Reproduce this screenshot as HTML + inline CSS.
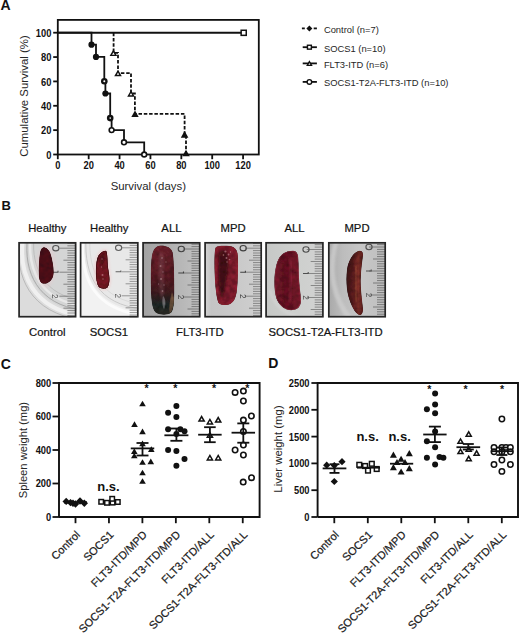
<!DOCTYPE html><html><head><meta charset="utf-8"><style>html,body{margin:0;padding:0;background:#fff;}svg{display:block;}text{font-family:"Liberation Sans", sans-serif;}text.n{stroke:#1a1a1a;stroke-width:0.22px;}</style></head><body>
<svg width="520" height="633" viewBox="0 0 520 633">
<rect width="520" height="633" fill="#fff"/>
<text x="0.50" y="9.70" font-size="14" font-weight="bold" text-anchor="start" fill="#111" >A</text>
<rect x="57.8" y="19.9" width="201.0" height="134.6" fill="none" stroke="#111" stroke-width="1.8"/>
<line x1="53.20" y1="154.50" x2="57.80" y2="154.50" stroke="#111" stroke-width="1.8" />
<text transform="translate(51.40,158.70) scale(0.88,1)" font-size="10.6" font-weight="bold" text-anchor="end" fill="#111">0</text>
<line x1="53.20" y1="130.14" x2="57.80" y2="130.14" stroke="#111" stroke-width="1.8" />
<text transform="translate(51.40,134.34) scale(0.88,1)" font-size="10.6" font-weight="bold" text-anchor="end" fill="#111">20</text>
<line x1="53.20" y1="105.78" x2="57.80" y2="105.78" stroke="#111" stroke-width="1.8" />
<text transform="translate(51.40,109.98) scale(0.88,1)" font-size="10.6" font-weight="bold" text-anchor="end" fill="#111">40</text>
<line x1="53.20" y1="81.42" x2="57.80" y2="81.42" stroke="#111" stroke-width="1.8" />
<text transform="translate(51.40,85.62) scale(0.88,1)" font-size="10.6" font-weight="bold" text-anchor="end" fill="#111">60</text>
<line x1="53.20" y1="57.06" x2="57.80" y2="57.06" stroke="#111" stroke-width="1.8" />
<text transform="translate(51.40,61.26) scale(0.88,1)" font-size="10.6" font-weight="bold" text-anchor="end" fill="#111">80</text>
<line x1="53.20" y1="32.70" x2="57.80" y2="32.70" stroke="#111" stroke-width="1.8" />
<text transform="translate(51.40,36.90) scale(0.88,1)" font-size="10.6" font-weight="bold" text-anchor="end" fill="#111">100</text>
<line x1="57.80" y1="154.50" x2="57.80" y2="159.20" stroke="#111" stroke-width="1.8" />
<text transform="translate(57.80,168.90) scale(0.88,1)" font-size="10.6" font-weight="bold" text-anchor="middle" fill="#111">0</text>
<line x1="88.68" y1="154.50" x2="88.68" y2="159.20" stroke="#111" stroke-width="1.8" />
<text transform="translate(88.68,168.90) scale(0.88,1)" font-size="10.6" font-weight="bold" text-anchor="middle" fill="#111">20</text>
<line x1="119.56" y1="154.50" x2="119.56" y2="159.20" stroke="#111" stroke-width="1.8" />
<text transform="translate(119.56,168.90) scale(0.88,1)" font-size="10.6" font-weight="bold" text-anchor="middle" fill="#111">40</text>
<line x1="150.44" y1="154.50" x2="150.44" y2="159.20" stroke="#111" stroke-width="1.8" />
<text transform="translate(150.44,168.90) scale(0.88,1)" font-size="10.6" font-weight="bold" text-anchor="middle" fill="#111">60</text>
<line x1="181.32" y1="154.50" x2="181.32" y2="159.20" stroke="#111" stroke-width="1.8" />
<text transform="translate(181.32,168.90) scale(0.88,1)" font-size="10.6" font-weight="bold" text-anchor="middle" fill="#111">80</text>
<line x1="212.20" y1="154.50" x2="212.20" y2="159.20" stroke="#111" stroke-width="1.8" />
<text transform="translate(212.20,168.90) scale(0.88,1)" font-size="10.6" font-weight="bold" text-anchor="middle" fill="#111">100</text>
<line x1="243.08" y1="154.50" x2="243.08" y2="159.20" stroke="#111" stroke-width="1.8" />
<text transform="translate(243.08,168.90) scale(0.88,1)" font-size="10.6" font-weight="bold" text-anchor="middle" fill="#111">120</text>
<text x="148.3" y="189.8" font-size="11.4" text-anchor="middle" fill="#262626">Survival (days)</text>
<text transform="translate(27.5,96.0) rotate(-90)" font-size="11.4" text-anchor="middle" fill="#262626">Cumulative Survival (%)</text>
<line x1="57.80" y1="32.70" x2="243.10" y2="32.70" stroke="#111" stroke-width="1.9" />
<path d="M57.8,32.7 H91.5 V44.7 H96 V56.9 H104.3 V81.3 H105.4 V93.5 H110.2 V118.1 H111.6 V130.1 H124 V142.3 H144.2 V154.5" fill="none" stroke="#111" stroke-width="1.8"/>
<path d="M113.6,32.7 V52.9 H118 V73.1 H131 V93.5 H134.9 V113.8 H184.6 V134.2 H186 V154.5" fill="none" stroke="#111" stroke-width="1.8" stroke-dasharray="3.5,1.8"/>
<circle cx="91.50" cy="44.70" r="3.1" fill="#111"/>
<circle cx="96.00" cy="56.90" r="3.1" fill="#111"/>
<circle cx="105.40" cy="93.50" r="3.1" fill="#111"/>
<circle cx="104.30" cy="81.30" r="3.3" fill="#111"/>
<circle cx="110.20" cy="118.10" r="3.3" fill="#111"/>
<circle cx="104.3" cy="81.3" r="1.0" fill="#fff"/><circle cx="110.2" cy="118.1" r="0.8" fill="#fff"/>
<circle cx="111.60" cy="130.10" r="2.40" fill="#fff" stroke="#111" stroke-width="1.6"/>
<circle cx="124.00" cy="142.30" r="2.40" fill="#fff" stroke="#111" stroke-width="1.6"/>
<circle cx="144.20" cy="154.50" r="2.40" fill="#fff" stroke="#111" stroke-width="1.6"/>
<polygon points="110.86,55.38 115.94,55.38 113.40,50.98" fill="#fff" stroke="#111" stroke-width="1.45" stroke-linejoin="miter"/>
<polygon points="115.46,75.58 120.54,75.58 118.00,71.18" fill="#fff" stroke="#111" stroke-width="1.45" stroke-linejoin="miter"/>
<polygon points="128.46,95.98 133.54,95.98 131.00,91.58" fill="#fff" stroke="#111" stroke-width="1.45" stroke-linejoin="miter"/>
<polygon points="131.30,117.00 138.70,117.00 135.00,110.60" fill="#111"/>
<polygon points="180.80,137.69 188.40,137.69 184.60,131.11" fill="#111"/>
<polygon points="182.20,156.29 189.80,156.29 186.00,149.71" fill="#111"/>
<rect x="241.15" y="30.25" width="5.10" height="5.10" fill="#fff" stroke="#111" stroke-width="1.5"/>
<line x1="301.90" y1="28.40" x2="304.80" y2="28.40" stroke="#111" stroke-width="1.8" />
<line x1="313.70" y1="28.40" x2="316.90" y2="28.40" stroke="#111" stroke-width="1.8" />
<polygon points="309.40,25.40 312.40,28.40 309.40,31.40 306.40,28.40" fill="#111"/>
<line x1="302.70" y1="47.20" x2="316.90" y2="47.20" stroke="#111" stroke-width="1.8" />
<rect x="307.45" y="45.25" width="3.90" height="3.90" fill="#fff" stroke="#111" stroke-width="1.4"/>
<line x1="302.70" y1="63.40" x2="316.90" y2="63.40" stroke="#111" stroke-width="1.8" />
<polygon points="307.28,65.40 311.52,65.40 309.40,61.72" fill="#fff" stroke="#111" stroke-width="1.35" stroke-linejoin="miter"/>
<line x1="302.70" y1="81.90" x2="316.90" y2="81.90" stroke="#111" stroke-width="1.8" />
<circle cx="309.40" cy="81.90" r="2.30" fill="#fff" stroke="#111" stroke-width="1.4"/>
<text x="323.9" y="32.8" font-size="9.4" fill="#262626">Control (n=7)</text>
<text x="323.9" y="52.0" font-size="9.4" fill="#262626">SOCS1 (n=10)</text>
<text x="323.9" y="68.1" font-size="9.4" fill="#262626">FLT3-ITD (n=6)</text>
<text x="323.9" y="86.2" font-size="9.4" fill="#262626">SOCS1-T2A-FLT3-ITD (n=10)</text>
<text x="1.50" y="210.00" font-size="13" font-weight="bold" text-anchor="start" fill="#111" >B</text>
<text class="n" x="47.35" y="231.90" font-size="11.3" font-weight="normal" text-anchor="middle" fill="#111" >Healthy</text>
<text class="n" x="109.20" y="231.90" font-size="11.3" font-weight="normal" text-anchor="middle" fill="#111" >Healthy</text>
<text class="n" x="171.40" y="231.90" font-size="11.3" font-weight="normal" text-anchor="middle" fill="#111" >ALL</text>
<text class="n" x="233.15" y="231.90" font-size="11.3" font-weight="normal" text-anchor="middle" fill="#111" >MPD</text>
<text class="n" x="294.50" y="231.90" font-size="11.3" font-weight="normal" text-anchor="middle" fill="#111" >ALL</text>
<text class="n" x="357.00" y="231.90" font-size="11.3" font-weight="normal" text-anchor="middle" fill="#111" >MPD</text>
<defs>
<clipPath id="pc0"><rect x="18.3" y="242.0" width="58.10000000000001" height="75.5"/></clipPath>
<clipPath id="pc1"><rect x="79.8" y="242.0" width="58.8" height="75.5"/></clipPath>
<clipPath id="pc2"><rect x="142.3" y="242.0" width="58.19999999999999" height="75.5"/></clipPath>
<clipPath id="pc3"><rect x="204.3" y="242.0" width="57.69999999999999" height="75.5"/></clipPath>
<clipPath id="pc4"><rect x="265.3" y="242.0" width="58.39999999999998" height="75.5"/></clipPath>
<clipPath id="pc5"><rect x="328" y="242.0" width="58" height="75.5"/></clipPath>
<clipPath id="spc1"><path d="M42.9,247.4 C46,247 49.5,249.5 51,255 C52.5,260 54,268 53.7,273 C53.5,278 51,282 46,283.7 C42,284.5 39.5,282.5 38.9,277 C38.5,270 38.8,260 39.8,254 C40.3,250 41.2,247.8 42.9,247.4 Z"/></clipPath>
<clipPath id="spc2"><path d="M105.8,250.7 C107,251 107.3,255 107.5,260 C107.7,266 108.5,271 109.2,275 C109.8,280 109.5,285 107.5,287.5 C105.5,289.2 101,289.2 98.7,286.7 C96.8,284.5 95.8,277 95.9,271.5 C96,265 96.5,259 98.5,255.5 C100.5,252.5 103.5,250.6 105.8,250.7 Z"/></clipPath>
<clipPath id="spc3"><path d="M160.5,245.6 C166,245.4 171,247.5 172.6,252 C174,258 174.3,275 174.3,290 C174.3,300 174.2,308 171.5,312.5 C168,315.5 160,315.5 155.5,312.5 C152,309 151.2,300 150.9,290 C150.6,278 150.6,262 152,255 C153.3,249 156,245.8 160.5,245.6 Z"/></clipPath>
<clipPath id="spc4"><path d="M216,247 C218,245.6 224,245.4 230,246 C235,246.8 237.6,250 237.9,256 C238.3,266 238,280 237,290 C236,298 234,302.5 229,304.6 C225,305.6 220,305.3 218.2,302.5 C216.5,298 216,292 215.2,284 C214.4,272 214.3,260 214.7,253 C215,249.5 215.3,247.8 216,247 Z"/></clipPath>
<clipPath id="spc5"><path d="M292,250.8 C295.5,250.6 297.8,252.5 298.2,257 C298.8,265 298.8,275 299.3,282 C299.8,290 301.5,298 300.8,303 C299.8,308 296,310.3 291,310.2 C285,310 280,306 277.5,301 C275,296 274.2,288 274.4,280 C274.6,272 276,264 278.5,259 C281,254 286,251 292,250.8 Z"/></clipPath>
<clipPath id="spc6"><path d="M360,250.8 C362.5,250.8 363.3,252.5 363,256 C362.3,262 361,270 360.8,280 C360.6,290 362.3,300 363,308 C363.4,313 362,315.8 359,315 C355,313.5 350.5,305 348.2,296 C346.2,288 345.8,278 347,269 C348.3,261 352,255 355.5,252.5 C357,251.4 358.5,250.8 360,250.8 Z"/></clipPath>
<filter id="soft" x="-5%" y="-5%" width="110%" height="110%"><feGaussianBlur stdDeviation="0.4"/></filter>
<filter id="blur05" x="-50%" y="-50%" width="200%" height="200%"><feGaussianBlur stdDeviation="0.5"/></filter>
<filter id="blur1" x="-20%" y="-20%" width="140%" height="140%"><feGaussianBlur stdDeviation="1.0"/></filter>
<filter id="tex" x="0" y="0" width="1" height="1" color-interpolation-filters="sRGB"><feTurbulence type="fractalNoise" baseFrequency="0.2" numOctaves="2" seed="7" result="n"/><feColorMatrix in="n" type="matrix" values="0.33 0.33 0.33 0 0  0.33 0.33 0.33 0 0  0.33 0.33 0.33 0 0  0 0 0 0 1" result="g"/><feComposite in="SourceGraphic" in2="g" operator="arithmetic" k1="1.0" k2="0.5" k3="0" k4="0" result="t"/><feComposite in="t" in2="SourceGraphic" operator="in"/></filter>
<filter id="tex2" x="0" y="0" width="1" height="1" color-interpolation-filters="sRGB"><feTurbulence type="fractalNoise" baseFrequency="0.12 0.3" numOctaves="2" seed="11" result="n"/><feColorMatrix in="n" type="matrix" values="0.33 0.33 0.33 0 0  0.33 0.33 0.33 0 0  0.33 0.33 0.33 0 0  0 0 0 0 1" result="g"/><feComposite in="SourceGraphic" in2="g" operator="arithmetic" k1="1.0" k2="0.5" k3="0" k4="0" result="t"/><feComposite in="t" in2="SourceGraphic" operator="in"/></filter>
<linearGradient id="bg3" x1="0" y1="0" x2="1" y2="0"><stop offset="0" stop-color="#a2a2a2"/><stop offset="0.45" stop-color="#b0b0b0"/><stop offset="1" stop-color="#c2c2c2"/></linearGradient>
<linearGradient id="bg4" x1="0" y1="0" x2="1" y2="0"><stop offset="0" stop-color="#d4d4d4"/><stop offset="0.12" stop-color="#c4c4c4"/><stop offset="0.6" stop-color="#cacaca"/><stop offset="1" stop-color="#d0d0d0"/></linearGradient>
<linearGradient id="bg5" x1="0" y1="0" x2="1" y2="0"><stop offset="0" stop-color="#c6c8c6"/><stop offset="0.5" stop-color="#cdcfcd"/><stop offset="1" stop-color="#d2d2d2"/></linearGradient>
<linearGradient id="bg6" x1="0" y1="0" x2="1" y2="0"><stop offset="0" stop-color="#a8a8a8"/><stop offset="0.25" stop-color="#bcbcbc"/><stop offset="0.55" stop-color="#c6c6c6"/><stop offset="1" stop-color="#bfbfbf"/></linearGradient>
<linearGradient id="sp3" x1="0" y1="0" x2="0" y2="1"><stop offset="0" stop-color="#66202a"/><stop offset="0.45" stop-color="#521820"/><stop offset="0.68" stop-color="#3c1a1e"/><stop offset="0.86" stop-color="#1a2422"/><stop offset="1" stop-color="#2a2822"/></linearGradient>
<linearGradient id="sp6" x1="0" y1="0" x2="1" y2="0"><stop offset="0" stop-color="#381214"/><stop offset="0.4" stop-color="#561a1c"/><stop offset="0.72" stop-color="#742a24"/><stop offset="1" stop-color="#561c1c"/></linearGradient>
<radialGradient id="sp4" cx="0.45" cy="0.3" r="0.7"><stop offset="0" stop-color="#3a0a12"/><stop offset="0.45" stop-color="#5a1020"/><stop offset="1" stop-color="#801e2c"/></radialGradient>
<linearGradient id="sp5" x1="0" y1="0" x2="1" y2="0"><stop offset="0" stop-color="#6c1628"/><stop offset="0.5" stop-color="#5c0e1e"/><stop offset="1" stop-color="#7a1a2c"/></linearGradient>

</defs>
<g clip-path="url(#pc0)"><g filter="url(#soft)">
<rect x="18.3" y="242.0" width="58.10000000000001" height="75.5" fill="#dcdcdc"/>
<path d="M26,238 C22,272 36,306 82,312 L82,238 Z" fill="#d4d5d5"/>
<path d="M23,238 C18,274 33,309 82,316" fill="none" stroke="#f0f0f0" stroke-width="4"/>
<path d="M27.5,238 C23.5,272 37.5,304.5 82,310" fill="none" stroke="#a9a9a9" stroke-width="1"/>
<path d="M30.5,238 C27.5,270 41,300.5 82,305.5" fill="none" stroke="#e8e8e8" stroke-width="2.5"/>
<path d="M34,238 C31,268 45,296 82,300" fill="none" stroke="#b8b8b8" stroke-width="0.8"/>
<path d="M19.5,238 C14.5,276 29.5,313 82,320" fill="none" stroke="#b4b4b4" stroke-width="0.9"/>
<ellipse cx="46" cy="266" rx="10" ry="22" fill="#e8c8cc" opacity="0.35" filter="url(#blur1)"/>
<line x1="67.40" y1="243.40" x2="75.4" y2="243.40" stroke="#6a6a6a" stroke-width="0.75"/><line x1="67.40" y1="245.80" x2="75.4" y2="245.80" stroke="#6a6a6a" stroke-width="0.75"/><line x1="59.40" y1="248.20" x2="75.4" y2="248.20" stroke="#6a6a6a" stroke-width="0.75"/><line x1="67.40" y1="250.60" x2="75.4" y2="250.60" stroke="#6a6a6a" stroke-width="0.75"/><line x1="67.40" y1="253.00" x2="75.4" y2="253.00" stroke="#6a6a6a" stroke-width="0.75"/><line x1="67.40" y1="255.40" x2="75.4" y2="255.40" stroke="#6a6a6a" stroke-width="0.75"/><line x1="67.40" y1="257.80" x2="75.4" y2="257.80" stroke="#6a6a6a" stroke-width="0.75"/><line x1="63.40" y1="260.20" x2="75.4" y2="260.20" stroke="#6a6a6a" stroke-width="0.75"/><line x1="67.40" y1="262.60" x2="75.4" y2="262.60" stroke="#6a6a6a" stroke-width="0.75"/><line x1="67.40" y1="265.00" x2="75.4" y2="265.00" stroke="#6a6a6a" stroke-width="0.75"/><line x1="67.40" y1="267.40" x2="75.4" y2="267.40" stroke="#6a6a6a" stroke-width="0.75"/><line x1="67.40" y1="269.80" x2="75.4" y2="269.80" stroke="#6a6a6a" stroke-width="0.75"/><line x1="59.40" y1="272.20" x2="75.4" y2="272.20" stroke="#6a6a6a" stroke-width="0.75"/><line x1="67.40" y1="274.60" x2="75.4" y2="274.60" stroke="#6a6a6a" stroke-width="0.75"/><line x1="67.40" y1="277.00" x2="75.4" y2="277.00" stroke="#6a6a6a" stroke-width="0.75"/><line x1="67.40" y1="279.40" x2="75.4" y2="279.40" stroke="#6a6a6a" stroke-width="0.75"/><line x1="67.40" y1="281.80" x2="75.4" y2="281.80" stroke="#6a6a6a" stroke-width="0.75"/><line x1="63.40" y1="284.20" x2="75.4" y2="284.20" stroke="#6a6a6a" stroke-width="0.75"/><line x1="67.40" y1="286.60" x2="75.4" y2="286.60" stroke="#6a6a6a" stroke-width="0.75"/><line x1="67.40" y1="289.00" x2="75.4" y2="289.00" stroke="#6a6a6a" stroke-width="0.75"/><line x1="67.40" y1="291.40" x2="75.4" y2="291.40" stroke="#6a6a6a" stroke-width="0.75"/><line x1="67.40" y1="293.80" x2="75.4" y2="293.80" stroke="#6a6a6a" stroke-width="0.75"/><line x1="59.40" y1="296.20" x2="75.4" y2="296.20" stroke="#6a6a6a" stroke-width="0.75"/><line x1="67.40" y1="298.60" x2="75.4" y2="298.60" stroke="#6a6a6a" stroke-width="0.75"/><line x1="67.40" y1="301.00" x2="75.4" y2="301.00" stroke="#6a6a6a" stroke-width="0.75"/><line x1="67.40" y1="303.40" x2="75.4" y2="303.40" stroke="#6a6a6a" stroke-width="0.75"/><line x1="67.40" y1="305.80" x2="75.4" y2="305.80" stroke="#6a6a6a" stroke-width="0.75"/><line x1="63.40" y1="308.20" x2="75.4" y2="308.20" stroke="#6a6a6a" stroke-width="0.75"/><line x1="67.40" y1="310.60" x2="75.4" y2="310.60" stroke="#6a6a6a" stroke-width="0.75"/><line x1="67.40" y1="313.00" x2="75.4" y2="313.00" stroke="#6a6a6a" stroke-width="0.75"/><line x1="67.40" y1="315.40" x2="75.4" y2="315.40" stroke="#6a6a6a" stroke-width="0.75"/><ellipse cx="55.80" cy="248.20" rx="3.1" ry="2.7" fill="none" stroke="#555" stroke-width="1.1"/><path d="M52.80,272.20 H58.40 M58.00,270.80 V272.70" stroke="#555" stroke-width="1.1" fill="none"/><text transform="translate(52.40,296.20) rotate(90)" font-size="8.2" text-anchor="middle" fill="#555">2</text>
<g filter="url(#tex)"><path d="M42.9,247.4 C46,247 49.5,249.5 51,255 C52.5,260 54,268 53.7,273 C53.5,278 51,282 46,283.7 C42,284.5 39.5,282.5 38.9,277 C38.5,270 38.8,260 39.8,254 C40.3,250 41.2,247.8 42.9,247.4 Z" fill="#4a0c16"/><g clip-path="url(#spc1)"></g></g>
</g></g>
<g clip-path="url(#pc1)"><g filter="url(#soft)">
<rect x="79.8" y="242.0" width="58.8" height="75.5" fill="#f2f2f2"/>
<path d="M84,238 C82,278 96,306 142,312 L142,238 Z" fill="#e8e8e8"/>
<path d="M83,238 C80,280 95,309 142,315" fill="none" stroke="#fbfbfb" stroke-width="3"/>
<path d="M86,238 C84,276 98,304 142,309" fill="none" stroke="#c6c6c6" stroke-width="0.9"/>
<path d="M90,238 C88,272 102,300 142,304" fill="none" stroke="#d6d6d6" stroke-width="0.8"/>
<path d="M105.8,250.7 C107,251 107.3,255 107.5,260 C107.7,266 108.5,271 109.2,275 C109.8,280 109.5,285 107.5,287.5 C105.5,289.2 101,289.2 98.7,286.7 C96.8,284.5 95.8,277 95.9,271.5 C96,265 96.5,259 98.5,255.5 C100.5,252.5 103.5,250.6 105.8,250.7 Z" fill="none" stroke="#f0cccc" stroke-width="3" opacity="0.7" filter="url(#blur1)"/>
<line x1="129.60" y1="243.00" x2="137.6" y2="243.00" stroke="#7a7a7a" stroke-width="0.75"/><line x1="129.60" y1="245.40" x2="137.6" y2="245.40" stroke="#7a7a7a" stroke-width="0.75"/><line x1="121.60" y1="247.80" x2="137.6" y2="247.80" stroke="#7a7a7a" stroke-width="0.75"/><line x1="129.60" y1="250.20" x2="137.6" y2="250.20" stroke="#7a7a7a" stroke-width="0.75"/><line x1="129.60" y1="252.60" x2="137.6" y2="252.60" stroke="#7a7a7a" stroke-width="0.75"/><line x1="129.60" y1="255.00" x2="137.6" y2="255.00" stroke="#7a7a7a" stroke-width="0.75"/><line x1="129.60" y1="257.40" x2="137.6" y2="257.40" stroke="#7a7a7a" stroke-width="0.75"/><line x1="125.60" y1="259.80" x2="137.6" y2="259.80" stroke="#7a7a7a" stroke-width="0.75"/><line x1="129.60" y1="262.20" x2="137.6" y2="262.20" stroke="#7a7a7a" stroke-width="0.75"/><line x1="129.60" y1="264.60" x2="137.6" y2="264.60" stroke="#7a7a7a" stroke-width="0.75"/><line x1="129.60" y1="267.00" x2="137.6" y2="267.00" stroke="#7a7a7a" stroke-width="0.75"/><line x1="129.60" y1="269.40" x2="137.6" y2="269.40" stroke="#7a7a7a" stroke-width="0.75"/><line x1="121.60" y1="271.80" x2="137.6" y2="271.80" stroke="#7a7a7a" stroke-width="0.75"/><line x1="129.60" y1="274.20" x2="137.6" y2="274.20" stroke="#7a7a7a" stroke-width="0.75"/><line x1="129.60" y1="276.60" x2="137.6" y2="276.60" stroke="#7a7a7a" stroke-width="0.75"/><line x1="129.60" y1="279.00" x2="137.6" y2="279.00" stroke="#7a7a7a" stroke-width="0.75"/><line x1="129.60" y1="281.40" x2="137.6" y2="281.40" stroke="#7a7a7a" stroke-width="0.75"/><line x1="125.60" y1="283.80" x2="137.6" y2="283.80" stroke="#7a7a7a" stroke-width="0.75"/><line x1="129.60" y1="286.20" x2="137.6" y2="286.20" stroke="#7a7a7a" stroke-width="0.75"/><line x1="129.60" y1="288.60" x2="137.6" y2="288.60" stroke="#7a7a7a" stroke-width="0.75"/><line x1="129.60" y1="291.00" x2="137.6" y2="291.00" stroke="#7a7a7a" stroke-width="0.75"/><line x1="129.60" y1="293.40" x2="137.6" y2="293.40" stroke="#7a7a7a" stroke-width="0.75"/><line x1="121.60" y1="295.80" x2="137.6" y2="295.80" stroke="#7a7a7a" stroke-width="0.75"/><line x1="129.60" y1="298.20" x2="137.6" y2="298.20" stroke="#7a7a7a" stroke-width="0.75"/><line x1="129.60" y1="300.60" x2="137.6" y2="300.60" stroke="#7a7a7a" stroke-width="0.75"/><line x1="129.60" y1="303.00" x2="137.6" y2="303.00" stroke="#7a7a7a" stroke-width="0.75"/><line x1="129.60" y1="305.40" x2="137.6" y2="305.40" stroke="#7a7a7a" stroke-width="0.75"/><line x1="125.60" y1="307.80" x2="137.6" y2="307.80" stroke="#7a7a7a" stroke-width="0.75"/><line x1="129.60" y1="310.20" x2="137.6" y2="310.20" stroke="#7a7a7a" stroke-width="0.75"/><line x1="129.60" y1="312.60" x2="137.6" y2="312.60" stroke="#7a7a7a" stroke-width="0.75"/><line x1="129.60" y1="315.00" x2="137.6" y2="315.00" stroke="#7a7a7a" stroke-width="0.75"/><line x1="129.60" y1="317.40" x2="137.6" y2="317.40" stroke="#7a7a7a" stroke-width="0.75"/><ellipse cx="118.60" cy="247.80" rx="3.1" ry="2.7" fill="none" stroke="#606060" stroke-width="1.1"/><path d="M115.60,271.80 H121.20 M120.80,270.40 V272.30" stroke="#606060" stroke-width="1.1" fill="none"/><text transform="translate(115.20,295.80) rotate(90)" font-size="8.2" text-anchor="middle" fill="#606060">2</text>
<g filter="url(#tex)"><path d="M105.8,250.7 C107,251 107.3,255 107.5,260 C107.7,266 108.5,271 109.2,275 C109.8,280 109.5,285 107.5,287.5 C105.5,289.2 101,289.2 98.7,286.7 C96.8,284.5 95.8,277 95.9,271.5 C96,265 96.5,259 98.5,255.5 C100.5,252.5 103.5,250.6 105.8,250.7 Z" fill="#6e1620"/><g clip-path="url(#spc2)"><path d="M104,253 C106,256 104,262 101,266 C99,262 100,256 104,253 Z" fill="#3a0a12" opacity="0.7" filter="url(#blur1)"/><path d="M105.8,250.7 C107,251 107.3,255 107.5,260 C107.7,266 108.5,271 109.2,275 C109.8,280 109.5,285 107.5,287.5 C105.5,289.2 101,289.2 98.7,286.7 C96.8,284.5 95.8,277 95.9,271.5 C96,265 96.5,259 98.5,255.5 C100.5,252.5 103.5,250.6 105.8,250.7 Z" fill="none" stroke="#4a0c14" stroke-width="1.6"/><g fill="#d8b0b8" opacity="0.45" filter="url(#blur05)"><circle cx="102" cy="259" r="0.7"/><circle cx="101.5" cy="267" r="0.7"/><circle cx="102.5" cy="275" r="1"/><circle cx="103" cy="279" r="0.8"/></g></g></g>
</g></g>
<g clip-path="url(#pc2)"><g filter="url(#soft)">
<rect x="142.3" y="242.0" width="58.19999999999999" height="75.5" fill="url(#bg3)"/>
<line x1="191.50" y1="244.20" x2="199.5" y2="244.20" stroke="#626262" stroke-width="0.75"/><line x1="191.50" y1="246.60" x2="199.5" y2="246.60" stroke="#626262" stroke-width="0.75"/><line x1="183.50" y1="249.00" x2="199.5" y2="249.00" stroke="#626262" stroke-width="0.75"/><line x1="191.50" y1="251.40" x2="199.5" y2="251.40" stroke="#626262" stroke-width="0.75"/><line x1="191.50" y1="253.80" x2="199.5" y2="253.80" stroke="#626262" stroke-width="0.75"/><line x1="191.50" y1="256.20" x2="199.5" y2="256.20" stroke="#626262" stroke-width="0.75"/><line x1="191.50" y1="258.60" x2="199.5" y2="258.60" stroke="#626262" stroke-width="0.75"/><line x1="187.50" y1="261.00" x2="199.5" y2="261.00" stroke="#626262" stroke-width="0.75"/><line x1="191.50" y1="263.40" x2="199.5" y2="263.40" stroke="#626262" stroke-width="0.75"/><line x1="191.50" y1="265.80" x2="199.5" y2="265.80" stroke="#626262" stroke-width="0.75"/><line x1="191.50" y1="268.20" x2="199.5" y2="268.20" stroke="#626262" stroke-width="0.75"/><line x1="191.50" y1="270.60" x2="199.5" y2="270.60" stroke="#626262" stroke-width="0.75"/><line x1="183.50" y1="273.00" x2="199.5" y2="273.00" stroke="#626262" stroke-width="0.75"/><line x1="191.50" y1="275.40" x2="199.5" y2="275.40" stroke="#626262" stroke-width="0.75"/><line x1="191.50" y1="277.80" x2="199.5" y2="277.80" stroke="#626262" stroke-width="0.75"/><line x1="191.50" y1="280.20" x2="199.5" y2="280.20" stroke="#626262" stroke-width="0.75"/><line x1="191.50" y1="282.60" x2="199.5" y2="282.60" stroke="#626262" stroke-width="0.75"/><line x1="187.50" y1="285.00" x2="199.5" y2="285.00" stroke="#626262" stroke-width="0.75"/><line x1="191.50" y1="287.40" x2="199.5" y2="287.40" stroke="#626262" stroke-width="0.75"/><line x1="191.50" y1="289.80" x2="199.5" y2="289.80" stroke="#626262" stroke-width="0.75"/><line x1="191.50" y1="292.20" x2="199.5" y2="292.20" stroke="#626262" stroke-width="0.75"/><line x1="191.50" y1="294.60" x2="199.5" y2="294.60" stroke="#626262" stroke-width="0.75"/><line x1="183.50" y1="297.00" x2="199.5" y2="297.00" stroke="#626262" stroke-width="0.75"/><line x1="191.50" y1="299.40" x2="199.5" y2="299.40" stroke="#626262" stroke-width="0.75"/><line x1="191.50" y1="301.80" x2="199.5" y2="301.80" stroke="#626262" stroke-width="0.75"/><line x1="191.50" y1="304.20" x2="199.5" y2="304.20" stroke="#626262" stroke-width="0.75"/><line x1="191.50" y1="306.60" x2="199.5" y2="306.60" stroke="#626262" stroke-width="0.75"/><line x1="187.50" y1="309.00" x2="199.5" y2="309.00" stroke="#626262" stroke-width="0.75"/><line x1="191.50" y1="311.40" x2="199.5" y2="311.40" stroke="#626262" stroke-width="0.75"/><line x1="191.50" y1="313.80" x2="199.5" y2="313.80" stroke="#626262" stroke-width="0.75"/><line x1="191.50" y1="316.20" x2="199.5" y2="316.20" stroke="#626262" stroke-width="0.75"/><ellipse cx="181.30" cy="249.00" rx="3.1" ry="2.7" fill="none" stroke="#404040" stroke-width="1.1"/><path d="M178.30,273.00 H183.90 M183.50,271.60 V273.50" stroke="#404040" stroke-width="1.1" fill="none"/><text transform="translate(177.90,297.00) rotate(90)" font-size="8.2" text-anchor="middle" fill="#404040">2</text>
<g filter="url(#tex)"><path d="M160.5,245.6 C166,245.4 171,247.5 172.6,252 C174,258 174.3,275 174.3,290 C174.3,300 174.2,308 171.5,312.5 C168,315.5 160,315.5 155.5,312.5 C152,309 151.2,300 150.9,290 C150.6,278 150.6,262 152,255 C153.3,249 156,245.8 160.5,245.6 Z" fill="url(#sp3)"/><g clip-path="url(#spc3)"><path d="M160,252 C163,251 165,258 164,268 C163,280 165,292 162,300 C160,294 158,280 158.5,268 C159,260 159,254 160,252 Z" fill="#a07880" opacity="0.22" filter="url(#blur1)"/><g fill="#d0b0b8" opacity="0.4" filter="url(#blur05)"><circle cx="162" cy="258" r="0.9"/><circle cx="160.5" cy="266" r="1"/><circle cx="163" cy="272" r="0.8"/><circle cx="161" cy="279" r="1.1"/><circle cx="164" cy="285" r="0.8"/><circle cx="162.5" cy="291" r="0.9"/><circle cx="166" cy="262" r="0.7"/><circle cx="158.5" cy="284" r="0.7"/></g><path d="M163,296 C166,298 166,306 164,309 C162,306 162,300 163,296 Z" fill="#c8c0c8" opacity="0.4" filter="url(#blur05)"/><path d="M172,292 C175,298 174.5,308 170,313 C168.5,311 169.5,300 172,292 Z" fill="#7a5a40" opacity="0.7"/></g></g>
</g></g>
<g clip-path="url(#pc3)"><g filter="url(#soft)">
<rect x="204.3" y="242.0" width="57.69999999999999" height="75.5" fill="url(#bg4)"/>
<line x1="253.00" y1="243.40" x2="261" y2="243.40" stroke="#6e6e6e" stroke-width="0.75"/><line x1="253.00" y1="245.80" x2="261" y2="245.80" stroke="#6e6e6e" stroke-width="0.75"/><line x1="245.00" y1="248.20" x2="261" y2="248.20" stroke="#6e6e6e" stroke-width="0.75"/><line x1="253.00" y1="250.60" x2="261" y2="250.60" stroke="#6e6e6e" stroke-width="0.75"/><line x1="253.00" y1="253.00" x2="261" y2="253.00" stroke="#6e6e6e" stroke-width="0.75"/><line x1="253.00" y1="255.40" x2="261" y2="255.40" stroke="#6e6e6e" stroke-width="0.75"/><line x1="253.00" y1="257.80" x2="261" y2="257.80" stroke="#6e6e6e" stroke-width="0.75"/><line x1="249.00" y1="260.20" x2="261" y2="260.20" stroke="#6e6e6e" stroke-width="0.75"/><line x1="253.00" y1="262.60" x2="261" y2="262.60" stroke="#6e6e6e" stroke-width="0.75"/><line x1="253.00" y1="265.00" x2="261" y2="265.00" stroke="#6e6e6e" stroke-width="0.75"/><line x1="253.00" y1="267.40" x2="261" y2="267.40" stroke="#6e6e6e" stroke-width="0.75"/><line x1="253.00" y1="269.80" x2="261" y2="269.80" stroke="#6e6e6e" stroke-width="0.75"/><line x1="245.00" y1="272.20" x2="261" y2="272.20" stroke="#6e6e6e" stroke-width="0.75"/><line x1="253.00" y1="274.60" x2="261" y2="274.60" stroke="#6e6e6e" stroke-width="0.75"/><line x1="253.00" y1="277.00" x2="261" y2="277.00" stroke="#6e6e6e" stroke-width="0.75"/><line x1="253.00" y1="279.40" x2="261" y2="279.40" stroke="#6e6e6e" stroke-width="0.75"/><line x1="253.00" y1="281.80" x2="261" y2="281.80" stroke="#6e6e6e" stroke-width="0.75"/><line x1="249.00" y1="284.20" x2="261" y2="284.20" stroke="#6e6e6e" stroke-width="0.75"/><line x1="253.00" y1="286.60" x2="261" y2="286.60" stroke="#6e6e6e" stroke-width="0.75"/><line x1="253.00" y1="289.00" x2="261" y2="289.00" stroke="#6e6e6e" stroke-width="0.75"/><line x1="253.00" y1="291.40" x2="261" y2="291.40" stroke="#6e6e6e" stroke-width="0.75"/><line x1="253.00" y1="293.80" x2="261" y2="293.80" stroke="#6e6e6e" stroke-width="0.75"/><line x1="245.00" y1="296.20" x2="261" y2="296.20" stroke="#6e6e6e" stroke-width="0.75"/><line x1="253.00" y1="298.60" x2="261" y2="298.60" stroke="#6e6e6e" stroke-width="0.75"/><line x1="253.00" y1="301.00" x2="261" y2="301.00" stroke="#6e6e6e" stroke-width="0.75"/><line x1="253.00" y1="303.40" x2="261" y2="303.40" stroke="#6e6e6e" stroke-width="0.75"/><line x1="253.00" y1="305.80" x2="261" y2="305.80" stroke="#6e6e6e" stroke-width="0.75"/><line x1="249.00" y1="308.20" x2="261" y2="308.20" stroke="#6e6e6e" stroke-width="0.75"/><line x1="253.00" y1="310.60" x2="261" y2="310.60" stroke="#6e6e6e" stroke-width="0.75"/><line x1="253.00" y1="313.00" x2="261" y2="313.00" stroke="#6e6e6e" stroke-width="0.75"/><line x1="253.00" y1="315.40" x2="261" y2="315.40" stroke="#6e6e6e" stroke-width="0.75"/><ellipse cx="243.20" cy="248.20" rx="3.1" ry="2.7" fill="none" stroke="#404040" stroke-width="1.1"/><path d="M240.20,272.20 H245.80 M245.40,270.80 V272.70" stroke="#404040" stroke-width="1.1" fill="none"/><text transform="translate(239.80,296.20) rotate(90)" font-size="8.2" text-anchor="middle" fill="#404040">2</text>
<g filter="url(#tex)"><path d="M216,247 C218,245.6 224,245.4 230,246 C235,246.8 237.6,250 237.9,256 C238.3,266 238,280 237,290 C236,298 234,302.5 229,304.6 C225,305.6 220,305.3 218.2,302.5 C216.5,298 216,292 215.2,284 C214.4,272 214.3,260 214.7,253 C215,249.5 215.3,247.8 216,247 Z" fill="#761a2a"/><g clip-path="url(#spc4)"><path d="M221,250 C226,249 229,256 228,266 C227,278 225,290 222,300 C219,290 218,275 218.5,264 C219,256 219,251 221,250 Z" fill="#2e0810" opacity="0.75" filter="url(#blur1)"/><path d="M216,247 C218,245.6 224,245.4 230,246 C235,246.8 237.6,250 237.9,256 C238.3,266 238,280 237,290 C236,298 234,302.5 229,304.6 C225,305.6 220,305.3 218.2,302.5 C216.5,298 216,292 215.2,284 C214.4,272 214.3,260 214.7,253 C215,249.5 215.3,247.8 216,247 Z" fill="none" stroke="#8e2030" stroke-width="2.5" opacity="0.8" filter="url(#blur1)"/><g fill="#d8a8b0" opacity="0.5" filter="url(#blur05)"><circle cx="225.5" cy="251.5" r="1.1"/><circle cx="228.5" cy="254.5" r="0.9"/><circle cx="226.5" cy="258" r="1"/><circle cx="223.5" cy="255" r="0.8"/><circle cx="229.5" cy="259.5" r="0.8"/><circle cx="227" cy="262" r="0.7"/><circle cx="230.5" cy="252" r="0.7"/></g></g></g>
</g></g>
<g clip-path="url(#pc4)"><g filter="url(#soft)">
<rect x="265.3" y="242.0" width="58.39999999999998" height="75.5" fill="url(#bg5)"/>
<path d="M270,290 C272,300 280,312 300,318" stroke="#dadada" stroke-width="3" fill="none" opacity="0.5" filter="url(#blur1)"/>
<line x1="314.70" y1="242.30" x2="322.7" y2="242.30" stroke="#6e6e6e" stroke-width="0.75"/><line x1="314.70" y1="244.70" x2="322.7" y2="244.70" stroke="#6e6e6e" stroke-width="0.75"/><line x1="314.70" y1="247.10" x2="322.7" y2="247.10" stroke="#6e6e6e" stroke-width="0.75"/><line x1="306.70" y1="249.50" x2="322.7" y2="249.50" stroke="#6e6e6e" stroke-width="0.75"/><line x1="314.70" y1="251.90" x2="322.7" y2="251.90" stroke="#6e6e6e" stroke-width="0.75"/><line x1="314.70" y1="254.30" x2="322.7" y2="254.30" stroke="#6e6e6e" stroke-width="0.75"/><line x1="314.70" y1="256.70" x2="322.7" y2="256.70" stroke="#6e6e6e" stroke-width="0.75"/><line x1="314.70" y1="259.10" x2="322.7" y2="259.10" stroke="#6e6e6e" stroke-width="0.75"/><line x1="310.70" y1="261.50" x2="322.7" y2="261.50" stroke="#6e6e6e" stroke-width="0.75"/><line x1="314.70" y1="263.90" x2="322.7" y2="263.90" stroke="#6e6e6e" stroke-width="0.75"/><line x1="314.70" y1="266.30" x2="322.7" y2="266.30" stroke="#6e6e6e" stroke-width="0.75"/><line x1="314.70" y1="268.70" x2="322.7" y2="268.70" stroke="#6e6e6e" stroke-width="0.75"/><line x1="314.70" y1="271.10" x2="322.7" y2="271.10" stroke="#6e6e6e" stroke-width="0.75"/><line x1="306.70" y1="273.50" x2="322.7" y2="273.50" stroke="#6e6e6e" stroke-width="0.75"/><line x1="314.70" y1="275.90" x2="322.7" y2="275.90" stroke="#6e6e6e" stroke-width="0.75"/><line x1="314.70" y1="278.30" x2="322.7" y2="278.30" stroke="#6e6e6e" stroke-width="0.75"/><line x1="314.70" y1="280.70" x2="322.7" y2="280.70" stroke="#6e6e6e" stroke-width="0.75"/><line x1="314.70" y1="283.10" x2="322.7" y2="283.10" stroke="#6e6e6e" stroke-width="0.75"/><line x1="310.70" y1="285.50" x2="322.7" y2="285.50" stroke="#6e6e6e" stroke-width="0.75"/><line x1="314.70" y1="287.90" x2="322.7" y2="287.90" stroke="#6e6e6e" stroke-width="0.75"/><line x1="314.70" y1="290.30" x2="322.7" y2="290.30" stroke="#6e6e6e" stroke-width="0.75"/><line x1="314.70" y1="292.70" x2="322.7" y2="292.70" stroke="#6e6e6e" stroke-width="0.75"/><line x1="314.70" y1="295.10" x2="322.7" y2="295.10" stroke="#6e6e6e" stroke-width="0.75"/><line x1="306.70" y1="297.50" x2="322.7" y2="297.50" stroke="#6e6e6e" stroke-width="0.75"/><line x1="314.70" y1="299.90" x2="322.7" y2="299.90" stroke="#6e6e6e" stroke-width="0.75"/><line x1="314.70" y1="302.30" x2="322.7" y2="302.30" stroke="#6e6e6e" stroke-width="0.75"/><line x1="314.70" y1="304.70" x2="322.7" y2="304.70" stroke="#6e6e6e" stroke-width="0.75"/><line x1="314.70" y1="307.10" x2="322.7" y2="307.10" stroke="#6e6e6e" stroke-width="0.75"/><line x1="310.70" y1="309.50" x2="322.7" y2="309.50" stroke="#6e6e6e" stroke-width="0.75"/><line x1="314.70" y1="311.90" x2="322.7" y2="311.90" stroke="#6e6e6e" stroke-width="0.75"/><line x1="314.70" y1="314.30" x2="322.7" y2="314.30" stroke="#6e6e6e" stroke-width="0.75"/><line x1="314.70" y1="316.70" x2="322.7" y2="316.70" stroke="#6e6e6e" stroke-width="0.75"/><ellipse cx="306.00" cy="249.50" rx="3.1" ry="2.7" fill="none" stroke="#505050" stroke-width="1.1"/><path d="M303.00,273.50 H308.60 M308.20,272.10 V274.00" stroke="#505050" stroke-width="1.1" fill="none"/><text transform="translate(302.60,297.50) rotate(90)" font-size="8.2" text-anchor="middle" fill="#505050">2</text>
<g filter="url(#tex)"><path d="M292,250.8 C295.5,250.6 297.8,252.5 298.2,257 C298.8,265 298.8,275 299.3,282 C299.8,290 301.5,298 300.8,303 C299.8,308 296,310.3 291,310.2 C285,310 280,306 277.5,301 C275,296 274.2,288 274.4,280 C274.6,272 276,264 278.5,259 C281,254 286,251 292,250.8 Z" fill="url(#sp5)"/><g clip-path="url(#spc5)"><path d="M290,258 C292,270 292,290 289,302" stroke="#a03048" stroke-width="2" fill="none" opacity="0.5" filter="url(#blur1)"/><path d="M283,262 C283,276 282,292 284,304" stroke="#4a0a18" stroke-width="2.5" fill="none" opacity="0.5" filter="url(#blur1)"/><path d="M292,250.8 C295.5,250.6 297.8,252.5 298.2,257 C298.8,265 298.8,275 299.3,282 C299.8,290 301.5,298 300.8,303 C299.8,308 296,310.3 291,310.2 C285,310 280,306 277.5,301 C275,296 274.2,288 274.4,280 C274.6,272 276,264 278.5,259 C281,254 286,251 292,250.8 Z" fill="none" stroke="#a04050" stroke-width="1.5" opacity="0.5" filter="url(#blur05)"/></g></g>
</g></g>
<g clip-path="url(#pc5)"><g filter="url(#soft)">
<rect x="328" y="242.0" width="58" height="75.5" fill="url(#bg6)"/>
<path d="M337,238 C327,270 333,300 353,322" fill="none" stroke="#d0d0d0" stroke-width="5" opacity="0.7" filter="url(#blur1)"/>
<line x1="377.00" y1="242.20" x2="385" y2="242.20" stroke="#626262" stroke-width="0.75"/><line x1="377.00" y1="244.60" x2="385" y2="244.60" stroke="#626262" stroke-width="0.75"/><line x1="369.00" y1="247.00" x2="385" y2="247.00" stroke="#626262" stroke-width="0.75"/><line x1="377.00" y1="249.40" x2="385" y2="249.40" stroke="#626262" stroke-width="0.75"/><line x1="377.00" y1="251.80" x2="385" y2="251.80" stroke="#626262" stroke-width="0.75"/><line x1="377.00" y1="254.20" x2="385" y2="254.20" stroke="#626262" stroke-width="0.75"/><line x1="377.00" y1="256.60" x2="385" y2="256.60" stroke="#626262" stroke-width="0.75"/><line x1="373.00" y1="259.00" x2="385" y2="259.00" stroke="#626262" stroke-width="0.75"/><line x1="377.00" y1="261.40" x2="385" y2="261.40" stroke="#626262" stroke-width="0.75"/><line x1="377.00" y1="263.80" x2="385" y2="263.80" stroke="#626262" stroke-width="0.75"/><line x1="377.00" y1="266.20" x2="385" y2="266.20" stroke="#626262" stroke-width="0.75"/><line x1="377.00" y1="268.60" x2="385" y2="268.60" stroke="#626262" stroke-width="0.75"/><line x1="369.00" y1="271.00" x2="385" y2="271.00" stroke="#626262" stroke-width="0.75"/><line x1="377.00" y1="273.40" x2="385" y2="273.40" stroke="#626262" stroke-width="0.75"/><line x1="377.00" y1="275.80" x2="385" y2="275.80" stroke="#626262" stroke-width="0.75"/><line x1="377.00" y1="278.20" x2="385" y2="278.20" stroke="#626262" stroke-width="0.75"/><line x1="377.00" y1="280.60" x2="385" y2="280.60" stroke="#626262" stroke-width="0.75"/><line x1="373.00" y1="283.00" x2="385" y2="283.00" stroke="#626262" stroke-width="0.75"/><line x1="377.00" y1="285.40" x2="385" y2="285.40" stroke="#626262" stroke-width="0.75"/><line x1="377.00" y1="287.80" x2="385" y2="287.80" stroke="#626262" stroke-width="0.75"/><line x1="377.00" y1="290.20" x2="385" y2="290.20" stroke="#626262" stroke-width="0.75"/><line x1="377.00" y1="292.60" x2="385" y2="292.60" stroke="#626262" stroke-width="0.75"/><line x1="369.00" y1="295.00" x2="385" y2="295.00" stroke="#626262" stroke-width="0.75"/><line x1="377.00" y1="297.40" x2="385" y2="297.40" stroke="#626262" stroke-width="0.75"/><line x1="377.00" y1="299.80" x2="385" y2="299.80" stroke="#626262" stroke-width="0.75"/><line x1="377.00" y1="302.20" x2="385" y2="302.20" stroke="#626262" stroke-width="0.75"/><line x1="377.00" y1="304.60" x2="385" y2="304.60" stroke="#626262" stroke-width="0.75"/><line x1="373.00" y1="307.00" x2="385" y2="307.00" stroke="#626262" stroke-width="0.75"/><line x1="377.00" y1="309.40" x2="385" y2="309.40" stroke="#626262" stroke-width="0.75"/><line x1="377.00" y1="311.80" x2="385" y2="311.80" stroke="#626262" stroke-width="0.75"/><line x1="377.00" y1="314.20" x2="385" y2="314.20" stroke="#626262" stroke-width="0.75"/><line x1="377.00" y1="316.60" x2="385" y2="316.60" stroke="#626262" stroke-width="0.75"/><ellipse cx="369.00" cy="247.00" rx="3.1" ry="2.7" fill="none" stroke="#505050" stroke-width="1.1"/><path d="M366.00,271.00 H371.60 M371.20,269.60 V271.50" stroke="#505050" stroke-width="1.1" fill="none"/><text transform="translate(365.60,295.00) rotate(90)" font-size="8.2" text-anchor="middle" fill="#505050">2</text>
<g filter="url(#tex)"><path d="M360,250.8 C362.5,250.8 363.3,252.5 363,256 C362.3,262 361,270 360.8,280 C360.6,290 362.3,300 363,308 C363.4,313 362,315.8 359,315 C355,313.5 350.5,305 348.2,296 C346.2,288 345.8,278 347,269 C348.3,261 352,255 355.5,252.5 C357,251.4 358.5,250.8 360,250.8 Z" fill="url(#sp6)"/><g clip-path="url(#spc6)"><path d="M356,266 C355,278 355,290 356.5,302" stroke="#a85a3a" stroke-width="2.2" fill="none" opacity="0.45" filter="url(#blur1)"/><path d="M360,251 C356,253 351,258 349,266" stroke="#2a0c10" stroke-width="2" fill="none" opacity="0.5" filter="url(#blur1)"/></g></g>
</g></g>
<rect x="19.1" y="242.8" width="56.50000000000001" height="73.9" fill="none" stroke="#262626" stroke-width="1.7"/>
<rect x="80.6" y="242.8" width="57.199999999999996" height="73.9" fill="none" stroke="#262626" stroke-width="1.7"/>
<rect x="143.10000000000002" y="242.8" width="56.59999999999999" height="73.9" fill="none" stroke="#262626" stroke-width="1.7"/>
<rect x="205.10000000000002" y="242.8" width="56.09999999999999" height="73.9" fill="none" stroke="#262626" stroke-width="1.7"/>
<rect x="266.1" y="242.8" width="56.799999999999976" height="73.9" fill="none" stroke="#262626" stroke-width="1.7"/>
<rect x="328.8" y="242.8" width="56.4" height="73.9" fill="none" stroke="#262626" stroke-width="1.7"/>
<text class="n" x="47.30" y="336.20" font-size="11.3" font-weight="normal" text-anchor="middle" fill="#111" >Control</text>
<text class="n" x="108.90" y="336.20" font-size="11.3" font-weight="normal" text-anchor="middle" fill="#111" >SOCS1</text>
<text class="n" x="199.80" y="336.20" font-size="11.3" font-weight="normal" text-anchor="middle" fill="#111" >FLT3-ITD</text>
<text class="n" x="325.60" y="336.20" font-size="11.3" font-weight="normal" text-anchor="middle" fill="#111" >SOCS1-T2A-FLT3-ITD</text>
<text x="0.80" y="368.80" font-size="14" font-weight="bold" text-anchor="start" fill="#111" >C</text>
<path d="M59.0,517.0 V383.0 H259.6 V517.0 H59.0" fill="none" stroke="#111" stroke-width="1.9"/>
<line x1="52.50" y1="517.00" x2="59.00" y2="517.00" stroke="#111" stroke-width="1.8" />
<text transform="translate(51.20,520.70) scale(0.88,1)" font-size="10.6" font-weight="bold" text-anchor="end" fill="#111">0</text>
<line x1="52.50" y1="483.50" x2="59.00" y2="483.50" stroke="#111" stroke-width="1.8" />
<text transform="translate(51.20,487.20) scale(0.88,1)" font-size="10.6" font-weight="bold" text-anchor="end" fill="#111">200</text>
<line x1="52.50" y1="450.00" x2="59.00" y2="450.00" stroke="#111" stroke-width="1.8" />
<text transform="translate(51.20,453.70) scale(0.88,1)" font-size="10.6" font-weight="bold" text-anchor="end" fill="#111">400</text>
<line x1="52.50" y1="416.50" x2="59.00" y2="416.50" stroke="#111" stroke-width="1.8" />
<text transform="translate(51.20,420.20) scale(0.88,1)" font-size="10.6" font-weight="bold" text-anchor="end" fill="#111">600</text>
<line x1="52.50" y1="383.00" x2="59.00" y2="383.00" stroke="#111" stroke-width="1.8" />
<text transform="translate(51.20,386.70) scale(0.88,1)" font-size="10.6" font-weight="bold" text-anchor="end" fill="#111">800</text>
<line x1="75.50" y1="517.00" x2="75.50" y2="523.20" stroke="#111" stroke-width="1.8" />
<line x1="108.95" y1="517.00" x2="108.95" y2="523.20" stroke="#111" stroke-width="1.8" />
<line x1="142.40" y1="517.00" x2="142.40" y2="523.20" stroke="#111" stroke-width="1.8" />
<line x1="175.85" y1="517.00" x2="175.85" y2="523.20" stroke="#111" stroke-width="1.8" />
<line x1="209.30" y1="517.00" x2="209.30" y2="523.20" stroke="#111" stroke-width="1.8" />
<line x1="242.75" y1="517.00" x2="242.75" y2="523.20" stroke="#111" stroke-width="1.8" />
<text transform="translate(27.1,450.1) rotate(-90)" font-size="11.2" text-anchor="middle" fill="#262626">Spleen weight (mg)</text>
<text class="n" transform="translate(80.80,535.5) rotate(-45)" font-size="11" text-anchor="end" fill="#1a1a1a">Control</text>
<text class="n" transform="translate(114.25,535.5) rotate(-45)" font-size="11" text-anchor="end" fill="#1a1a1a">SOCS1</text>
<text class="n" transform="translate(147.70,535.5) rotate(-45)" font-size="11" text-anchor="end" fill="#1a1a1a">FLT3-ITD/MPD</text>
<text class="n" transform="translate(181.15,535.5) rotate(-45)" font-size="11" text-anchor="end" fill="#1a1a1a">SOCS1-T2A-FLT3-ITD/MPD</text>
<text class="n" transform="translate(214.60,535.5) rotate(-45)" font-size="11" text-anchor="end" fill="#1a1a1a">FLT3-ITD/ALL</text>
<text class="n" transform="translate(248.05,535.5) rotate(-45)" font-size="11" text-anchor="end" fill="#1a1a1a">SOCS1-T2A-FLT3-ITD/ALL</text>
<polygon points="66.20,497.70 69.90,501.40 66.20,505.10 62.50,501.40" fill="#111"/>
<polygon points="70.50,498.90 74.20,502.60 70.50,506.30 66.80,502.60" fill="#111"/>
<polygon points="75.50,500.30 79.20,504.00 75.50,507.70 71.80,504.00" fill="#111"/>
<polygon points="80.00,497.30 83.70,501.00 80.00,504.70 76.30,501.00" fill="#111"/>
<polygon points="84.30,499.50 88.00,503.20 84.30,506.90 80.60,503.20" fill="#111"/>
<polygon points="73.00,499.50 76.70,503.20 73.00,506.90 69.30,503.20" fill="#111"/>
<line x1="64.00" y1="502.40" x2="87.00" y2="502.40" stroke="#111" stroke-width="2.2" />
<rect x="98.95" y="499.55" width="4.50" height="4.50" fill="#fff" stroke="#111" stroke-width="1.5"/>
<rect x="104.75" y="500.55" width="4.50" height="4.50" fill="#fff" stroke="#111" stroke-width="1.5"/>
<rect x="110.35" y="500.35" width="4.50" height="4.50" fill="#fff" stroke="#111" stroke-width="1.5"/>
<rect x="115.55" y="499.75" width="4.50" height="4.50" fill="#fff" stroke="#111" stroke-width="1.5"/>
<rect x="109.95" y="496.55" width="4.50" height="4.50" fill="#fff" stroke="#111" stroke-width="1.5"/>
<text x="108.40" y="490.80" font-size="13" font-weight="bold" text-anchor="middle" fill="#111" >n.s.</text>
<polygon points="139.20,406.36 145.80,406.36 142.50,400.64" fill="#111"/>
<polygon points="131.20,427.06 137.80,427.06 134.50,421.34" fill="#111"/>
<polygon points="139.20,434.16 145.80,434.16 142.50,428.44" fill="#111"/>
<polygon points="139.20,446.26 145.80,446.26 142.50,440.54" fill="#111"/>
<polygon points="148.00,451.96 154.60,451.96 151.30,446.24" fill="#111"/>
<polygon points="131.00,454.06 137.60,454.06 134.30,448.34" fill="#111"/>
<polygon points="131.00,458.36 137.60,458.36 134.30,452.64" fill="#111"/>
<polygon points="139.20,464.86 145.80,464.86 142.50,459.14" fill="#111"/>
<polygon points="147.50,464.26 154.10,464.26 150.80,458.54" fill="#111"/>
<polygon points="139.20,475.36 145.80,475.36 142.50,469.64" fill="#111"/>
<polygon points="139.20,483.86 145.80,483.86 142.50,478.14" fill="#111"/>
<line x1="130.75" y1="448.40" x2="154.25" y2="448.40" stroke="#111" stroke-width="1.8" />
<line x1="142.50" y1="443.00" x2="142.50" y2="455.50" stroke="#111" stroke-width="1.8" />
<line x1="136.50" y1="443.00" x2="148.50" y2="443.00" stroke="#111" stroke-width="1.8" />
<line x1="136.50" y1="455.50" x2="148.50" y2="455.50" stroke="#111" stroke-width="1.8" />
<circle cx="176.40" cy="405.90" r="3.0" fill="#111"/>
<circle cx="168.10" cy="412.80" r="3.0" fill="#111"/>
<circle cx="176.40" cy="417.10" r="3.0" fill="#111"/>
<circle cx="168.10" cy="429.20" r="3.0" fill="#111"/>
<circle cx="180.30" cy="429.20" r="3.0" fill="#111"/>
<circle cx="184.50" cy="431.30" r="3.0" fill="#111"/>
<circle cx="176.40" cy="433.90" r="3.0" fill="#111"/>
<circle cx="168.10" cy="450.10" r="3.0" fill="#111"/>
<circle cx="176.40" cy="450.90" r="3.0" fill="#111"/>
<circle cx="184.50" cy="459.10" r="3.0" fill="#111"/>
<circle cx="176.40" cy="465.80" r="3.0" fill="#111"/>
<line x1="164.40" y1="435.30" x2="188.40" y2="435.30" stroke="#111" stroke-width="1.8" />
<line x1="176.40" y1="428.50" x2="176.40" y2="440.80" stroke="#111" stroke-width="1.8" />
<line x1="170.40" y1="428.50" x2="182.40" y2="428.50" stroke="#111" stroke-width="1.8" />
<line x1="170.40" y1="440.80" x2="182.40" y2="440.80" stroke="#111" stroke-width="1.8" />
<polygon points="199.00,421.04 204.20,421.04 201.60,416.54" fill="#fff" stroke="#111" stroke-width="1.5" stroke-linejoin="miter"/>
<polygon points="207.30,423.94 212.50,423.94 209.90,419.44" fill="#fff" stroke="#111" stroke-width="1.5" stroke-linejoin="miter"/>
<polygon points="215.60,422.04 220.80,422.04 218.20,417.54" fill="#fff" stroke="#111" stroke-width="1.5" stroke-linejoin="miter"/>
<polygon points="207.30,437.24 212.50,437.24 209.90,432.74" fill="#fff" stroke="#111" stroke-width="1.5" stroke-linejoin="miter"/>
<polygon points="207.30,459.94 212.50,459.94 209.90,455.44" fill="#fff" stroke="#111" stroke-width="1.5" stroke-linejoin="miter"/>
<polygon points="215.60,459.94 220.80,459.94 218.20,455.44" fill="#fff" stroke="#111" stroke-width="1.5" stroke-linejoin="miter"/>
<line x1="198.15" y1="434.70" x2="221.65" y2="434.70" stroke="#111" stroke-width="1.8" />
<line x1="209.90" y1="427.20" x2="209.90" y2="442.20" stroke="#111" stroke-width="1.8" />
<line x1="204.10" y1="427.20" x2="215.70" y2="427.20" stroke="#111" stroke-width="1.8" />
<line x1="204.10" y1="442.20" x2="215.70" y2="442.20" stroke="#111" stroke-width="1.8" />
<circle cx="235.10" cy="392.40" r="2.70" fill="#fff" stroke="#111" stroke-width="1.6"/>
<circle cx="243.40" cy="391.10" r="2.70" fill="#fff" stroke="#111" stroke-width="1.6"/>
<circle cx="243.40" cy="401.00" r="2.70" fill="#fff" stroke="#111" stroke-width="1.6"/>
<circle cx="251.40" cy="416.00" r="2.70" fill="#fff" stroke="#111" stroke-width="1.6"/>
<circle cx="243.40" cy="420.10" r="2.70" fill="#fff" stroke="#111" stroke-width="1.6"/>
<circle cx="243.40" cy="431.40" r="2.70" fill="#fff" stroke="#111" stroke-width="1.6"/>
<circle cx="243.40" cy="445.00" r="2.70" fill="#fff" stroke="#111" stroke-width="1.6"/>
<circle cx="235.10" cy="450.00" r="2.70" fill="#fff" stroke="#111" stroke-width="1.6"/>
<circle cx="243.40" cy="455.00" r="2.70" fill="#fff" stroke="#111" stroke-width="1.6"/>
<circle cx="251.50" cy="477.70" r="2.70" fill="#fff" stroke="#111" stroke-width="1.6"/>
<circle cx="243.20" cy="482.10" r="2.70" fill="#fff" stroke="#111" stroke-width="1.6"/>
<line x1="231.55" y1="432.70" x2="255.05" y2="432.70" stroke="#111" stroke-width="1.8" />
<line x1="243.30" y1="423.40" x2="243.30" y2="442.70" stroke="#111" stroke-width="1.8" />
<line x1="237.30" y1="423.40" x2="249.30" y2="423.40" stroke="#111" stroke-width="1.8" />
<line x1="237.30" y1="442.70" x2="249.30" y2="442.70" stroke="#111" stroke-width="1.8" />
<text x="146.60" y="392.30" font-size="10.6" font-weight="bold" text-anchor="middle" fill="#111" >*</text>
<text x="175.30" y="392.30" font-size="10.6" font-weight="bold" text-anchor="middle" fill="#111" >*</text>
<text x="214.00" y="392.30" font-size="10.6" font-weight="bold" text-anchor="middle" fill="#111" >*</text>
<text x="247.20" y="392.30" font-size="10.6" font-weight="bold" text-anchor="middle" fill="#111" >*</text>
<text x="268.20" y="368.10" font-size="14" font-weight="bold" text-anchor="start" fill="#111" >D</text>
<path d="M317.6,517.0 V383.0 H518.0 V517.0 H317.6" fill="none" stroke="#111" stroke-width="1.9"/>
<line x1="311.40" y1="517.00" x2="317.60" y2="517.00" stroke="#111" stroke-width="1.8" />
<text transform="translate(309.50,520.90) scale(0.88,1)" font-size="10.6" font-weight="bold" text-anchor="end" fill="#111">0</text>
<line x1="311.40" y1="490.20" x2="317.60" y2="490.20" stroke="#111" stroke-width="1.8" />
<text transform="translate(309.50,494.10) scale(0.88,1)" font-size="10.6" font-weight="bold" text-anchor="end" fill="#111">500</text>
<line x1="311.40" y1="463.40" x2="317.60" y2="463.40" stroke="#111" stroke-width="1.8" />
<text transform="translate(309.50,467.30) scale(0.88,1)" font-size="10.6" font-weight="bold" text-anchor="end" fill="#111">1000</text>
<line x1="311.40" y1="436.60" x2="317.60" y2="436.60" stroke="#111" stroke-width="1.8" />
<text transform="translate(309.50,440.50) scale(0.88,1)" font-size="10.6" font-weight="bold" text-anchor="end" fill="#111">1500</text>
<line x1="311.40" y1="409.80" x2="317.60" y2="409.80" stroke="#111" stroke-width="1.8" />
<text transform="translate(309.50,413.70) scale(0.88,1)" font-size="10.6" font-weight="bold" text-anchor="end" fill="#111">2000</text>
<line x1="311.40" y1="383.00" x2="317.60" y2="383.00" stroke="#111" stroke-width="1.8" />
<text transform="translate(309.50,386.90) scale(0.88,1)" font-size="10.6" font-weight="bold" text-anchor="end" fill="#111">2500</text>
<line x1="334.30" y1="517.00" x2="334.30" y2="523.20" stroke="#111" stroke-width="1.8" />
<line x1="367.80" y1="517.00" x2="367.80" y2="523.20" stroke="#111" stroke-width="1.8" />
<line x1="401.30" y1="517.00" x2="401.30" y2="523.20" stroke="#111" stroke-width="1.8" />
<line x1="434.80" y1="517.00" x2="434.80" y2="523.20" stroke="#111" stroke-width="1.8" />
<line x1="468.30" y1="517.00" x2="468.30" y2="523.20" stroke="#111" stroke-width="1.8" />
<line x1="501.80" y1="517.00" x2="501.80" y2="523.20" stroke="#111" stroke-width="1.8" />
<text transform="translate(281.7,449.0) rotate(-90)" font-size="11.4" text-anchor="middle" fill="#262626">Liver weight (mg)</text>
<text class="n" transform="translate(339.60,535.5) rotate(-45)" font-size="11" text-anchor="end" fill="#1a1a1a">Control</text>
<text class="n" transform="translate(373.10,535.5) rotate(-45)" font-size="11" text-anchor="end" fill="#1a1a1a">SOCS1</text>
<text class="n" transform="translate(406.60,535.5) rotate(-45)" font-size="11" text-anchor="end" fill="#1a1a1a">FLT3-ITD/MPD</text>
<text class="n" transform="translate(440.10,535.5) rotate(-45)" font-size="11" text-anchor="end" fill="#1a1a1a">SOCS1-T2A-FLT3-ITD/MPD</text>
<text class="n" transform="translate(473.60,535.5) rotate(-45)" font-size="11" text-anchor="end" fill="#1a1a1a">FLT3-ITD/ALL</text>
<text class="n" transform="translate(507.10,535.5) rotate(-45)" font-size="11" text-anchor="end" fill="#1a1a1a">SOCS1-T2A-FLT3-ITD/ALL</text>
<polygon points="326.70,461.60 330.30,465.20 326.70,468.80 323.10,465.20" fill="#111"/>
<polygon points="342.00,458.10 345.60,461.70 342.00,465.30 338.40,461.70" fill="#111"/>
<polygon points="334.30,477.90 337.90,481.50 334.30,485.10 330.70,481.50" fill="#111"/>
<polygon points="334.30,461.90 337.90,465.50 334.30,469.10 330.70,465.50" fill="#111"/>
<line x1="322.65" y1="468.40" x2="346.35" y2="468.40" stroke="#111" stroke-width="1.8" />
<line x1="334.50" y1="464.20" x2="334.50" y2="472.90" stroke="#111" stroke-width="1.8" />
<line x1="329.50" y1="464.20" x2="339.50" y2="464.20" stroke="#111" stroke-width="1.8" />
<line x1="329.50" y1="472.90" x2="339.50" y2="472.90" stroke="#111" stroke-width="1.8" />
<rect x="356.95" y="462.45" width="4.70" height="4.70" fill="#fff" stroke="#111" stroke-width="1.5"/>
<rect x="362.75" y="463.65" width="4.70" height="4.70" fill="#fff" stroke="#111" stroke-width="1.5"/>
<rect x="369.45" y="461.45" width="4.70" height="4.70" fill="#fff" stroke="#111" stroke-width="1.5"/>
<rect x="365.65" y="468.25" width="4.70" height="4.70" fill="#fff" stroke="#111" stroke-width="1.5"/>
<rect x="374.35" y="466.65" width="4.70" height="4.70" fill="#fff" stroke="#111" stroke-width="1.5"/>
<line x1="357.00" y1="467.70" x2="380.00" y2="467.70" stroke="#111" stroke-width="1.8" />
<polygon points="389.90,457.63 396.90,457.63 393.40,451.57" fill="#111"/>
<polygon points="405.80,456.13 412.80,456.13 409.30,450.07" fill="#111"/>
<polygon points="397.60,461.83 404.60,461.83 401.10,455.77" fill="#111"/>
<polygon points="389.90,470.13 396.90,470.13 393.40,464.07" fill="#111"/>
<polygon points="405.80,471.13 412.80,471.13 409.30,465.07" fill="#111"/>
<polygon points="397.60,474.53 404.60,474.53 401.10,468.47" fill="#111"/>
<polygon points="393.50,465.03 400.50,465.03 397.00,458.97" fill="#111"/>
<polygon points="401.50,465.03 408.50,465.03 405.00,458.97" fill="#111"/>
<line x1="390.00" y1="463.70" x2="413.20" y2="463.70" stroke="#111" stroke-width="1.8" />
<circle cx="435.10" cy="393.40" r="3.0" fill="#111"/>
<circle cx="435.10" cy="404.50" r="3.0" fill="#111"/>
<circle cx="426.90" cy="409.20" r="3.0" fill="#111"/>
<circle cx="435.10" cy="413.20" r="3.0" fill="#111"/>
<circle cx="435.10" cy="431.40" r="3.0" fill="#111"/>
<circle cx="426.90" cy="441.30" r="3.0" fill="#111"/>
<circle cx="435.10" cy="447.20" r="3.0" fill="#111"/>
<circle cx="426.90" cy="457.70" r="3.0" fill="#111"/>
<circle cx="439.50" cy="457.10" r="3.0" fill="#111"/>
<circle cx="443.40" cy="457.70" r="3.0" fill="#111"/>
<circle cx="435.10" cy="464.50" r="3.0" fill="#111"/>
<line x1="423.20" y1="434.50" x2="446.60" y2="434.50" stroke="#111" stroke-width="1.8" />
<line x1="434.90" y1="426.60" x2="434.90" y2="442.10" stroke="#111" stroke-width="1.8" />
<line x1="428.90" y1="426.60" x2="440.90" y2="426.60" stroke="#111" stroke-width="1.8" />
<line x1="428.90" y1="442.10" x2="440.90" y2="442.10" stroke="#111" stroke-width="1.8" />
<polygon points="466.15,436.20 471.25,436.20 468.70,431.78" fill="#fff" stroke="#111" stroke-width="1.5" stroke-linejoin="miter"/>
<polygon points="457.95,443.30 463.05,443.30 460.50,438.88" fill="#fff" stroke="#111" stroke-width="1.5" stroke-linejoin="miter"/>
<polygon points="457.95,453.60 463.05,453.60 460.50,449.18" fill="#fff" stroke="#111" stroke-width="1.5" stroke-linejoin="miter"/>
<polygon points="466.15,451.20 471.25,451.20 468.70,446.78" fill="#fff" stroke="#111" stroke-width="1.5" stroke-linejoin="miter"/>
<polygon points="474.05,455.20 479.15,455.20 476.60,450.78" fill="#fff" stroke="#111" stroke-width="1.5" stroke-linejoin="miter"/>
<polygon points="466.15,460.70 471.25,460.70 468.70,456.28" fill="#fff" stroke="#111" stroke-width="1.5" stroke-linejoin="miter"/>
<line x1="456.45" y1="447.20" x2="480.15" y2="447.20" stroke="#111" stroke-width="1.8" />
<line x1="468.30" y1="444.00" x2="468.30" y2="449.50" stroke="#111" stroke-width="1.8" />
<line x1="462.80" y1="444.00" x2="473.80" y2="444.00" stroke="#111" stroke-width="1.8" />
<line x1="462.80" y1="449.50" x2="473.80" y2="449.50" stroke="#111" stroke-width="1.8" />
<circle cx="501.90" cy="419.00" r="2.68" fill="#fff" stroke="#111" stroke-width="1.55"/>
<circle cx="494.00" cy="447.40" r="2.68" fill="#fff" stroke="#111" stroke-width="1.55"/>
<circle cx="501.90" cy="447.40" r="2.68" fill="#fff" stroke="#111" stroke-width="1.55"/>
<circle cx="506.00" cy="447.40" r="2.68" fill="#fff" stroke="#111" stroke-width="1.55"/>
<circle cx="510.40" cy="447.40" r="2.68" fill="#fff" stroke="#111" stroke-width="1.55"/>
<circle cx="494.00" cy="451.80" r="2.68" fill="#fff" stroke="#111" stroke-width="1.55"/>
<circle cx="510.40" cy="451.80" r="2.68" fill="#fff" stroke="#111" stroke-width="1.55"/>
<circle cx="501.90" cy="452.00" r="2.68" fill="#fff" stroke="#111" stroke-width="1.55"/>
<circle cx="501.90" cy="460.00" r="2.68" fill="#fff" stroke="#111" stroke-width="1.55"/>
<circle cx="494.00" cy="464.50" r="2.68" fill="#fff" stroke="#111" stroke-width="1.55"/>
<circle cx="510.40" cy="464.50" r="2.68" fill="#fff" stroke="#111" stroke-width="1.55"/>
<circle cx="501.90" cy="471.40" r="2.68" fill="#fff" stroke="#111" stroke-width="1.55"/>
<line x1="490.90" y1="451.20" x2="512.90" y2="451.20" stroke="#111" stroke-width="1.8" />
<line x1="501.90" y1="447.50" x2="501.90" y2="455.00" stroke="#111" stroke-width="1.8" />
<line x1="496.40" y1="447.50" x2="507.40" y2="447.50" stroke="#111" stroke-width="1.8" />
<line x1="496.40" y1="455.00" x2="507.40" y2="455.00" stroke="#111" stroke-width="1.8" />
<text x="367.60" y="441.30" font-size="13" font-weight="bold" text-anchor="middle" fill="#111" >n.s.</text>
<text x="399.60" y="441.30" font-size="13" font-weight="bold" text-anchor="middle" fill="#111" >n.s.</text>
<text x="429.20" y="392.50" font-size="10.6" font-weight="bold" text-anchor="middle" fill="#111" >*</text>
<text x="465.60" y="392.50" font-size="10.6" font-weight="bold" text-anchor="middle" fill="#111" >*</text>
<text x="502.00" y="392.50" font-size="10.6" font-weight="bold" text-anchor="middle" fill="#111" >*</text>
</svg></body></html>
